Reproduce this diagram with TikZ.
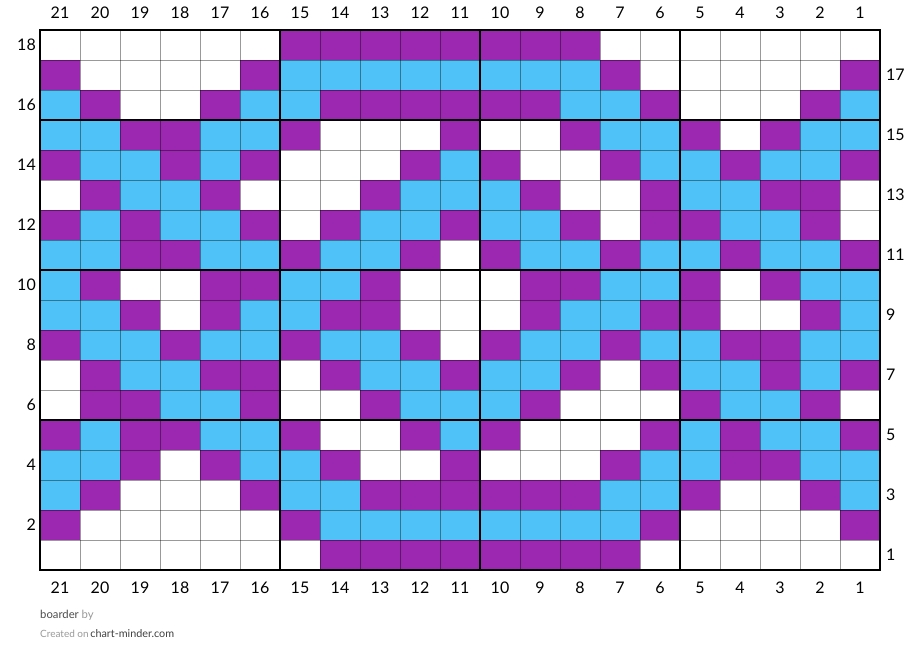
\documentclass[tikz,border=0pt]{standalone}
\usepackage{fontspec}
\setmainfont{Lato}
\definecolor{chartpurple}{HTML}{9C27B0}
\definecolor{chartblue}{HTML}{4FC3F7}
\colorlet{W}{white}
\colorlet{P}{chartpurple}
\colorlet{B}{chartblue}
\begin{document}
\begin{tikzpicture}[x=1pt,y=-1pt,
  cell/.style={draw=black,draw opacity=0.4,line width=0.6pt},
  rule/.style={draw=black,line width=1.6pt},
  lbl/.style={inner sep=0pt,font=\fontsize{16}{18}\selectfont}]
\useasboundingbox (0,0) rectangle (920,663);
\fill[white] (0,0) rectangle (920,663);
% chart cells, column 21 on the left
\foreach \r/\cells in {
  18/{W,W,W,W,W,W,P,P,P,P,P,P,P,P,W,W,W,W,W,W,W},
  17/{P,W,W,W,W,P,B,B,B,B,B,B,B,B,P,W,W,W,W,W,P},
  16/{B,P,W,W,P,B,B,P,P,P,P,P,P,B,B,P,W,W,W,P,B},
  15/{B,B,P,P,B,B,P,W,W,W,P,W,W,P,B,B,P,W,P,B,B},
  14/{P,B,B,P,B,P,W,W,W,P,B,P,W,W,P,B,B,P,B,B,P},
  13/{W,P,B,B,P,W,W,W,P,B,B,B,P,W,W,P,B,B,P,P,W},
  12/{P,B,P,B,B,P,W,P,B,B,P,B,B,P,W,P,P,B,B,P,W},
  11/{B,B,P,P,B,B,P,B,B,P,W,P,B,B,P,B,B,P,B,B,P},
  10/{B,P,W,W,P,P,B,B,P,W,W,W,P,P,B,B,P,W,P,B,B},
  9/{B,B,P,W,P,B,B,P,P,W,W,W,P,B,B,P,P,W,W,P,B},
  8/{P,B,B,P,B,B,P,B,B,P,W,P,B,B,P,B,B,P,P,B,B},
  7/{W,P,B,B,P,P,W,P,B,B,P,B,B,P,W,P,B,B,P,B,P},
  6/{W,P,P,B,B,P,W,W,P,B,B,B,P,W,W,W,P,B,B,P,W},
  5/{P,B,P,P,B,B,P,W,W,P,B,P,W,W,W,P,B,P,B,B,P},
  4/{B,B,P,W,P,B,B,P,W,W,P,W,W,W,P,B,B,P,P,B,B},
  3/{B,P,W,W,W,P,B,B,P,P,P,P,P,P,B,B,P,W,W,P,B},
  2/{P,W,W,W,W,W,P,B,B,B,B,B,B,B,B,P,W,W,W,W,P},
  1/{W,W,W,W,W,W,W,P,P,P,P,P,P,P,P,W,W,W,W,W,W}}
{
  \foreach \c [count=\i] in \cells
    \fill[fill=\c] ({40*\i},{570-30*\r}) rectangle ++(40,30);
}
% thin grid
\foreach \i in {0,...,21}
  \draw[cell] ({40+40*\i},30) -- ({40+40*\i},570);
\foreach \j in {0,...,18}
  \draw[cell] (40,{30+30*\j}) -- (880,{30+30*\j});
% every fifth line
\foreach \xx in {280,480,680}
  \draw[rule] (\xx,30) -- (\xx,570);
\foreach \yy in {120,270,420}
  \draw[rule] (40,\yy) -- (880,\yy);
\draw[rule,line width=2.2pt] (40,30) rectangle (880,570);
% column numbers
\foreach \n in {1,...,21} {
  \node[lbl] (top\n) at ({900-40*\n},13) {\n};
  \node[lbl] (bot\n) at ({900-40*\n},588) {\n};
}
% row numbers
\foreach \r in {2,4,...,18}
  \node[lbl,anchor=east] (left\r) at (36,{585-30*\r}) {\r};
\foreach \r in {1,3,...,17}
  \node[lbl,anchor=west] (right\r) at (886,{585-30*\r}) {\r};
% footer
\node[anchor=base west,inner sep=0pt,font=\fontsize{11.3}{13}\selectfont] (title) at (40,618)
  {\textcolor{black!70}{boarder} \textcolor{black!40}{by}};
\node[anchor=base west,inner sep=0pt] (credit) at (40,637)
  {\fontsize{10}{12}\selectfont\textcolor{black!40}{Created on}\,\fontsize{10.8}{12}\selectfont\textcolor{black!75}{chart-minder.com}};
\end{tikzpicture}
\end{document}
